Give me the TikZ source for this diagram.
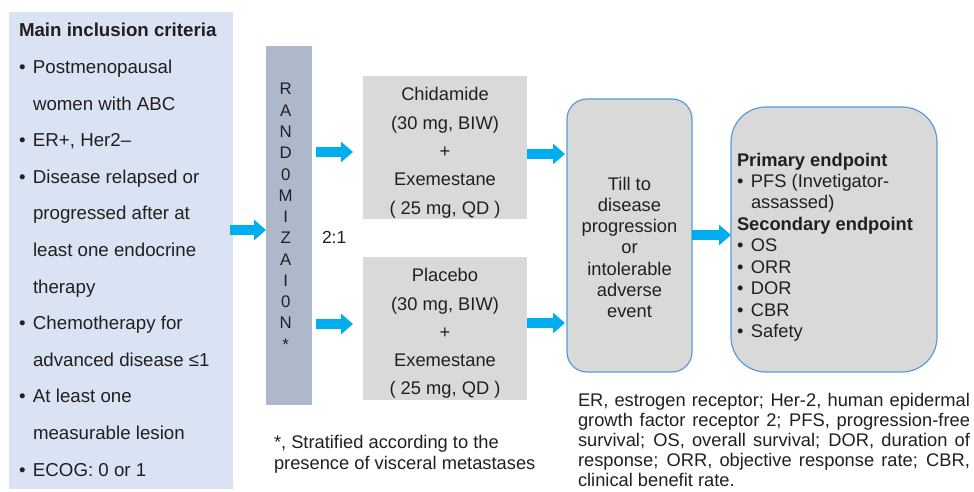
\documentclass[tikz,border=0pt]{standalone}
\usepackage{fontspec}
\setmainfont{Liberation Sans}
\usetikzlibrary{arrows.meta,calc}
\definecolor{critfill}{HTML}{DAE3F3}
\definecolor{randfill}{HTML}{ADB9CB}
\definecolor{boxgray}{HTML}{D9D9D9}
\definecolor{arrowc}{HTML}{00AEEF}
\definecolor{bordc}{HTML}{5B9BD5}
\definecolor{txt}{HTML}{231F20}
\newcommand\mainfs{\fontsize{18.3}{22}\selectfont}
\newcommand\leftfs{\fontsize{18.7}{22}\selectfont}
\newcommand\letfs{\fontsize{16.8}{20}\selectfont}
\newcommand\blt{\makebox[14pt][l]{•}}
\begin{document}
\begin{tikzpicture}[x=1pt,y=-1pt,
  every node/.style={text=txt,inner sep=0pt,outer sep=0pt},
  line/.style={font=\mainfs,anchor=base west},
  lline/.style={font=\leftfs,anchor=base west},
  cline/.style={font=\mainfs,anchor=base},
  letter/.style={font=\letfs,anchor=base},
  note/.style={font=\mainfs,anchor=base west},
  panel/.style={fill=critfill,anchor=north west},
  randbar/.style={fill=randfill,anchor=north west},
  armbox/.style={fill=boxgray,anchor=north west},
  roundbox/.style={fill=boxgray,draw=bordc,line width=1.2pt,anchor=north west},
  arr/.style={draw=arrowc,line width=10pt,-{Triangle[length=12pt,width=20pt]}}]
\useasboundingbox[fill=white] (0,0) rectangle (974,492);

% left panel
\node[panel,minimum width=224pt,minimum height=477pt] (crit) at (9,12) {};
\node[lline,font=\leftfs\bfseries] (title) at (19,36.5) {Main inclusion criteria};
\foreach \t/\x [count=\i] in {
  {\blt Postmenopausal}/19,
  {women with ABC}/33,
  {\blt ER+, Her2–}/19,
  {\blt Disease relapsed or}/19,
  {progressed after at}/33,
  {least one endocrine}/33,
  {therapy}/33,
  {\blt Chemotherapy for}/19,
  {advanced disease ≤1}/33,
  {\blt At least one}/19,
  {measurable lesion}/33,
  {\blt ECOG: 0 or 1}/19}
  \node[lline] (crit\i) at (\x,{73.5+36.6*(\i-1)}) {\t};

% randomization bar
\node[randbar,minimum width=46pt,minimum height=359pt] (rand) at (266,46) {};
\foreach \l [count=\i] in {R,A,N,D,0,M,I,Z,A,I,0,N,*}
  \node[letter] (rl\i) at (285.7,{95+21.27*(\i-1)}) {\l};
\node[font=\fontsize{17.5}{20}\selectfont,anchor=base west] (ratio) at (322,243.3) {2:1};

% treatment arms
\node[armbox,minimum width=164pt,minimum height=143pt] (chid) at (363,76) {};
\node[armbox,minimum width=164pt,minimum height=143pt] (plac) at (363,257) {};
\foreach \t [count=\i] in {Chidamide,{(30 mg, BIW)},+,Exemestane,{( 25 mg, QD )}}
  \node[cline] (ct\i) at (445,{101+28.3*(\i-1)}) {\t};
\foreach \t [count=\i] in {Placebo,{(30 mg, BIW)},+,Exemestane,{( 25 mg, QD )}}
  \node[cline] (pt\i) at (445,{281.7+28.3*(\i-1)}) {\t};

% till box
\node[roundbox,rounded corners=20pt,minimum width=125pt,minimum height=273pt] (till) at (567,99) {};
\foreach \t [count=\i] in {Till to,disease,progression,or,intolerable,adverse,event}
  \node[cline] (tt\i) at (629.5,{190+21.3*(\i-1)}) {\t};

% endpoint box
\node[roundbox,rounded corners=35pt,minimum width=206pt,minimum height=265pt] (endp) at (731,107) {};
\foreach \t/\x/\b [count=\i] in {
  {Primary endpoint}/737/1,
  {\blt PFS (Invetigator-}/737/0,
  {assassed)}/751/0,
  {Secondary endpoint}/737/1,
  {\blt OS}/737/0,
  {\blt ORR}/737/0,
  {\blt DOR}/737/0,
  {\blt CBR}/737/0,
  {\blt Safety}/737/0}
  \node[line] (et\i) at (\x,{166+21.46*(\i-1)}) {\ifnum\b=1\bfseries\fi\t};

% notes
\node[note] (n1) at (274,448) {*, Stratified according to the};
\node[note] (n2) at (274,469) {presence of visceral metastases};
\foreach \t [count=\i] in {
  {ER, estrogen receptor; Her-2, human epidermal},
  {growth factor receptor 2; PFS, progression-free},
  {survival; OS, overall survival; DOR, duration of},
  {response; ORR, objective response rate; CBR,}}
  \node[note] (r\i) at (578,{406+20*(\i-1)}) {\makebox[392pt][s]{\t}};
\node[note] (r5) at (578,486) {clinical benefit rate.};

% arrows
\draw[arr,shorten <=-3pt] (crit.east |- 0,230) -- (rand.west |- 0,230);
\draw[arr,shorten <=4pt,shorten >=10pt] (rand.east |- 0,152) -- (chid.west |- 0,152);
\draw[arr,shorten <=4pt,shorten >=10pt] (rand.east |- 0,324) -- (plac.west |- 0,324);
\draw[arr,shorten >=2pt] (chid.east |- 0,154) -- (till.west |- 0,154);
\draw[arr,shorten >=2pt] (plac.east |- 0,323) -- (till.west |- 0,323);
\draw[arr] (till.east |- 0,235) -- (endp.west |- 0,235);
\end{tikzpicture}
\end{document}
